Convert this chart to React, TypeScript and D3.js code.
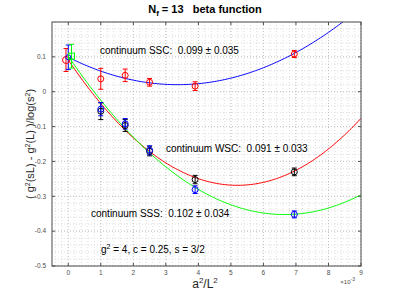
import React from "react";
import * as d3 from "d3";

const W = 399, H = 299;
const M = { left: 52, right: 361, top: 22, bottom: 266 };

const xTicks = [0, 1, 2, 3, 4, 5, 6, 7, 8, 9];
const yTicks = [-0.5, -0.4, -0.3, -0.2, -0.1, 0, 0.1];
const yTickLabels = ["-0.5", "-0.4", "-0.3", "-0.2", "-0.1", "0", "0.1"];

// data (x in units of 1e-3)
const latticeX = [1.0, 1.75, 2.5, 3.9, 6.95];
const sscY = [0.037, 0.047, 0.027, 0.016, 0.108];
const sscErr = [0.030, 0.018, 0.011, 0.0125, 0.010];
const wscY = [-0.056, -0.097, -0.171, -0.252, -0.230];
const wscErr = [0.024, 0.017, 0.013, 0.012, 0.011];
const sssY = [-0.050, -0.092, -0.168, -0.281, -0.352];
const sssErr = [0.019, 0.015, 0.013, 0.011, 0.010];

// continuum extrapolations
const contX = [-0.07, 0.0, 0.1];
const contY = [0.091, 0.099, 0.102];
const contErr = [0.033, 0.035, 0.034];
const contColors = ["#ff0000", "#0000ff", "#00ff00"];

// quadratic fit coefficients [c, b, a]
const fitSSC = [0.099, -0.04687, 0.006972];
const fitWSC = [0.0911, -0.13832, 0.0133];
const fitSSS = [0.1018, -0.13659, 0.01027];

const NB = "\u00A0";

export default function App() {
  const x = d3.scaleLinear().domain([-0.5, 9]).range([M.left, M.right]);
  const y = d3.scaleLinear().domain([-0.5, 0.2]).range([M.bottom, M.top]);
  const font = "'Liberation Sans', Arial, Helvetica, sans-serif";

  const xs = d3.range(0, 9.0001, 0.05);
  const line = d3.line<number[]>().x(d => x(d[0])).y(d => y(d[1]));
  const fitPath = (f: number[]) =>
    line(xs.map(v => [v, f[0] + f[1] * v + f[2] * v * v]));

  const minorX = d3.range(-0.4, 9.0001, 0.2);
  const minorY = d3.range(-0.5, 0.2001, 0.02);

  const errBar = (cx: number, cy: number, e: number, color: string, key: string) => {
    const px = x(cx), y1 = y(cy + e), y2 = y(cy - e);
    return (
      <g key={key} stroke={color} strokeWidth={1}>
        <line x1={px} x2={px} y1={y1} y2={y2} />
        <line x1={px - 2.5} x2={px + 2.5} y1={y1} y2={y1} />
        <line x1={px - 2.5} x2={px + 2.5} y1={y2} y2={y2} />
      </g>
    );
  };

  const pre = { whiteSpace: "pre" as const };

  return (
    <svg width={W} height={H} style={{ position: "absolute", left: 0, top: 0, background: "#fff" }} fontFamily={font}>
      <rect x={0} y={0} width={W} height={H} fill="#fff" />
      <defs>
        <clipPath id="plotclip">
          <rect x={M.left} y={M.top} width={M.right - M.left} height={M.bottom - M.top} />
        </clipPath>
      </defs>
      {/* minor grid */}
      <g stroke="#cfcfcf" strokeWidth={0.7} strokeDasharray="1,2">
        {minorX.map((v, i) => (
          <line key={"mx" + i} x1={x(v)} x2={x(v)} y1={M.top} y2={M.bottom} />
        ))}
        {minorY.map((v, i) => (
          <line key={"my" + i} x1={M.left} x2={M.right} y1={y(v)} y2={y(v)} />
        ))}
      </g>
      {/* major grid */}
      <g stroke="#bdbdbd" strokeWidth={0.8} strokeDasharray="1,2">
        {xTicks.map((v, i) => (
          <line key={"gx" + i} x1={x(v)} x2={x(v)} y1={M.top} y2={M.bottom} />
        ))}
        {yTicks.map((v, i) => (
          <line key={"gy" + i} x1={M.left} x2={M.right} y1={y(v)} y2={y(v)} />
        ))}
      </g>

      {/* fits */}
      <g clipPath="url(#plotclip)" fill="none" strokeWidth={1}>
        <path d={fitPath(fitSSC) || ""} stroke="#0000ff" />
        <path d={fitPath(fitWSC) || ""} stroke="#ff0000" />
        <path d={fitPath(fitSSS) || ""} stroke="#00ff00" />
      </g>

      {/* data */}
      {latticeX.map((v, i) => errBar(v, wscY[i], wscErr[i], "#000", "we" + i))}
      {latticeX.map((v, i) => errBar(v, sssY[i], sssErr[i], "#0000ff", "se" + i))}
      {latticeX.map((v, i) => errBar(v, sscY[i], sscErr[i], "#ff0000", "ce" + i))}
      {latticeX.map((v, i) => (
        <circle key={"wc" + i} cx={x(v)} cy={y(wscY[i])} r={3} fill="none" stroke="#000" />
      ))}
      {latticeX.map((v, i) => (
        <circle key={"sc" + i} cx={x(v)} cy={y(sssY[i])} r={3} fill="none" stroke="#0000ff" />
      ))}
      {latticeX.map((v, i) => (
        <circle key={"cc" + i} cx={x(v)} cy={y(sscY[i])} r={3} fill="none" stroke="#ff0000" />
      ))}

      {/* continuum points */}
      {contX.map((v, i) => errBar(v, contY[i], contErr[i], contColors[i], "ke" + i))}
      <circle cx={x(contX[0])} cy={y(contY[0])} r={3.5} fill="none" stroke={contColors[0]} />
      <circle cx={x(contX[1])} cy={y(contY[1])} r={2.5} fill="none" stroke={contColors[1]} />
      <rect x={x(contX[2]) - 3} y={y(contY[2]) - 3} width={6} height={6} fill="none" stroke={contColors[2]} />

      {/* axes box */}
      <rect x={M.left} y={M.top} width={M.right - M.left} height={M.bottom - M.top} fill="none" stroke="#4d4d4d" strokeWidth={1} />
      <g stroke="#4d4d4d" strokeWidth={1}>
        {xTicks.map((v, i) => (
          <g key={"tx" + i}>
            <line x1={x(v)} x2={x(v)} y1={M.bottom} y2={M.bottom - 3} />
            <line x1={x(v)} x2={x(v)} y1={M.top} y2={M.top + 3} />
          </g>
        ))}
        {yTicks.map((v, i) => (
          <g key={"ty" + i}>
            <line x1={M.left} x2={M.left + 3} y1={y(v)} y2={y(v)} />
            <line x1={M.right} x2={M.right - 3} y1={y(v)} y2={y(v)} />
          </g>
        ))}
      </g>
      <g fill="#4d4d4d" fontSize={6.5}>
        {xTicks.map((v, i) => (
          <text key={"lx" + i} x={x(v)} y={M.bottom + 9} textAnchor="middle">{v}</text>
        ))}
        {yTicks.map((v, i) => (
          <text key={"ly" + i} x={M.left - 6} y={y(v) + 2.3} textAnchor="end">{yTickLabels[i]}</text>
        ))}
        <text x={355} y={284} textAnchor="end" fontSize={6}>×10<tspan dy={-3} fontSize={5}>-3</tspan></text>
      </g>

      {/* title */}
      <text x={205} y={13} textAnchor="middle" fontSize={11} fontWeight="bold" fill="#000" style={pre}>
        N<tspan dy={3} fontSize={8}>f</tspan><tspan dy={-3}>{" = 13   beta function"}</tspan>
      </text>

      {/* axis labels */}
      <text x={205} y={288} textAnchor="middle" fontSize={12} fill="#262626">
        a<tspan dy={-5} fontSize={8}>2</tspan><tspan dy={5}>/L</tspan><tspan dy={-5} fontSize={8}>2</tspan>
      </text>
      <text transform={`translate(34,${(M.top + M.bottom) / 2}) rotate(-90)`} textAnchor="middle" fontSize={11} fill="#262626" style={pre}>
        ( g<tspan dy={-4} fontSize={7}>2</tspan><tspan dy={4}>(sL) - g</tspan><tspan dy={-4} fontSize={7}>2</tspan><tspan dy={4}>(L) )/log(s</tspan><tspan dy={-4} fontSize={7}>2</tspan><tspan dy={4}>)</tspan>
      </text>

      {/* annotations */}
      <g fontSize={10} fill="#000">
        <text x={100} y={54} style={pre}>{`continuum SSC:${NB}${NB}0.099 ± 0.035`}</text>
        <text x={166} y={152} style={pre}>{`continuum WSC:${NB}${NB}0.091 ± 0.033`}</text>
        <text x={91} y={217} style={pre}>{`continuum SSS:${NB}${NB}0.102 ± 0.034`}</text>
        <text x={101} y={253} style={pre}>
          g<tspan dy={-4} fontSize={7}>2</tspan><tspan dy={4}>{" = 4, c = 0.25, s = 3/2"}</tspan>
        </text>
      </g>
    </svg>
  );
}
